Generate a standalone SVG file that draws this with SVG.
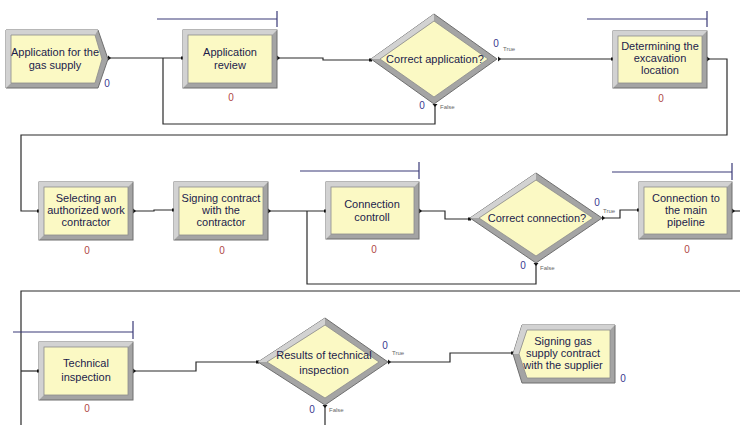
<svg xmlns="http://www.w3.org/2000/svg" width="740" height="425" viewBox="0 0 740 425">
  <defs>
    <style>
      .frame { fill: #a4a4a4; stroke: #6f6f6f; stroke-width: 1; }
      .hl { fill: #d2d2d2; }
      .face { fill: #fbf9c4; stroke: #8c8c8c; stroke-width: 0.8; }
      .lbl { font-family: "Liberation Sans", Arial, sans-serif; font-size: 11px; fill: #1c1c4c; text-anchor: middle; }
      .cnt { font-family: "Liberation Sans", Arial, sans-serif; font-size: 10px; text-anchor: middle; }
      .red { fill: #b04848; }
      .blue { fill: #3a3a90; }
      .tf { font-family: "Liberation Sans", Arial, sans-serif; font-size: 6px; fill: #666; }
      .wire { fill: none; stroke: #2a2a2a; stroke-width: 1.2; }
      .res { fill: none; stroke: #3a3a78; stroke-width: 1.2; }
      .pt { fill: #111; }
    </style>
  </defs>
  <rect width="740" height="425" fill="#ffffff"/>

  <!-- connectors -->
  <g id="connectors">
    <path class="wire" d="M108,58 H183"/>
    <path class="wire" d="M435,104 V124 H163 V58"/>
    <path class="wire" d="M277,58 H323 V60 H371"/>
    <path class="wire" d="M498,59 H613"/>
    <path class="wire" d="M707,59 H727 V135 H21 V211 H39"/>
    <path class="wire" d="M133,211 H154 V210 H174"/>
    <path class="wire" d="M268,211 H326"/>
    <path class="wire" d="M536,263 V284 H307 V211"/>
    <path class="wire" d="M419,211 H445 V219 H470"/>
    <path class="wire" d="M602,218 H620 V210 H639"/>
    <path class="wire" d="M732,211 H740"/>
    <path class="wire" d="M740,291 H21 V425"/>
    <path class="wire" d="M21,371 H39"/>
    <path class="wire" d="M133,371 H196 V362 H258"/>
    <path class="wire" d="M388,362 H450 V353 H513"/>
    <path class="wire" d="M325,405 V425"/>
    <!-- connection points -->
    <rect class="pt" x="181" y="56.5" width="3" height="3"/>
    <rect class="pt" x="369" y="58.5" width="3" height="3"/>
    <rect class="pt" x="611" y="57.5" width="3" height="3"/>
    <rect class="pt" x="37" y="209.5" width="3" height="3"/>
    <rect class="pt" x="172" y="208.5" width="3" height="3"/>
    <rect class="pt" x="324" y="209.5" width="3" height="3"/>
    <rect class="pt" x="468" y="217.5" width="3" height="3"/>
    <rect class="pt" x="637" y="208.5" width="3" height="3"/>
    <rect class="pt" x="37" y="369.5" width="3" height="3"/>
    <rect class="pt" x="256" y="360.5" width="3" height="3"/>
    <rect class="pt" x="511" y="351.5" width="3" height="3"/>
    <path class="pt" d="M108,55.5 L111,58 L108,60.5 Z"/>
    <path class="pt" d="M277,55.5 L280,58 L277,60.5 Z"/>
    <path class="pt" d="M498,56.5 L501,59 L498,61.5 Z"/>
    <path class="pt" d="M707,56.5 L710,59 L707,61.5 Z"/>
    <path class="pt" d="M432.5,104 L435,107 L437.5,104 Z"/>
    <path class="pt" d="M133,208.5 L136,211 L133,213.5 Z"/>
    <path class="pt" d="M268,208.5 L271,211 L268,213.5 Z"/>
    <path class="pt" d="M419,208.5 L422,211 L419,213.5 Z"/>
    <path class="pt" d="M602,215.5 L605,218 L602,220.5 Z"/>
    <path class="pt" d="M533.5,263 L536,266 L538.5,263 Z"/>
    <path class="pt" d="M732,208.5 L735,211 L732,213.5 Z"/>
    <path class="pt" d="M133,368.5 L136,371 L133,373.5 Z"/>
    <path class="pt" d="M388,359.5 L391,362 L388,364.5 Z"/>
    <path class="pt" d="M322.5,405 L325,408 L327.5,405 Z"/>
  </g>

  <!-- resource bars -->
  <g id="resources">
    <path class="res" d="M157,19 H277 M277,11 V27"/>
    <path class="res" d="M587,19 H707 M707,11 V27"/>
    <path class="res" d="M300,171 H419 M419,162 V179"/>
    <path class="res" d="M612,172 H732 M732,163 V180"/>
    <path class="res" d="M13,332 H133 M133,321 V339"/>
  </g>

  <!-- Row 1 -->
  <g id="create-application">
    <polygon class="frame" points="6,30 98,30 108,59 98,88 6,88"/>
    <polygon class="hl" points="6,30 98,30 95,35 11,35 11,83 6,88"/>
    <polygon class="face" points="11,35 95,35 102,59 95,83 11,83"/>
    <text class="lbl" x="55" y="56">Application for the</text>
    <text class="lbl" x="55" y="69">gas supply</text>
    <text class="cnt blue" x="107" y="87">0</text>
  </g>

  <g id="application-review">
    <rect class="frame" x="183" y="30" width="94" height="58"/>
    <polygon class="hl" points="183,30 277,30 272,35 188,35 188,83 183,88"/>
    <rect class="face" x="188" y="35" width="84" height="48"/>
    <text class="lbl" x="230" y="56">Application</text>
    <text class="lbl" x="230" y="69">review</text>
    <text class="cnt red" x="231" y="101">0</text>
  </g>

  <g id="correct-application">
    <polygon class="frame" points="371,59 434,14 497,59 434,104"/>
    <polygon class="hl" points="371,59 434,14 434,21 380,59"/>
    <polygon class="face" points="380,59 434,21 488,59 434,97"/>
    <text class="lbl" x="435" y="63">Correct application?</text>
    <text class="cnt blue" x="496" y="47">0</text>
    <text class="tf" x="503" y="51">True</text>
    <text class="cnt blue" x="422" y="109">0</text>
    <text class="tf" x="440" y="109">False</text>
  </g>

  <g id="determining-location">
    <rect class="frame" x="613" y="31" width="94" height="57"/>
    <polygon class="hl" points="613,31 707,31 702,36 618,36 618,83 613,88"/>
    <rect class="face" x="618" y="36" width="84" height="47"/>
    <text class="lbl" x="660" y="50">Determining the</text>
    <text class="lbl" x="660" y="62">excavation</text>
    <text class="lbl" x="660" y="74">location</text>
    <text class="cnt red" x="661" y="102">0</text>
  </g>

  <!-- Row 2 -->
  <g id="selecting-contractor">
    <rect class="frame" x="39" y="182" width="94" height="58"/>
    <polygon class="hl" points="39,182 133,182 128,187 44,187 44,235 39,240"/>
    <rect class="face" x="44" y="187" width="84" height="48"/>
    <text class="lbl" x="86" y="202">Selecting an</text>
    <text class="lbl" x="86" y="214">authorized work</text>
    <text class="lbl" x="86" y="226">contractor</text>
    <text class="cnt red" x="87" y="254">0</text>
  </g>

  <g id="signing-contract">
    <rect class="frame" x="174" y="182" width="94" height="58"/>
    <polygon class="hl" points="174,182 268,182 263,187 179,187 179,235 174,240"/>
    <rect class="face" x="179" y="187" width="84" height="48"/>
    <text class="lbl" x="221" y="202">Signing contract</text>
    <text class="lbl" x="221" y="214">with the</text>
    <text class="lbl" x="221" y="226">contractor</text>
    <text class="cnt red" x="222" y="254">0</text>
  </g>

  <g id="connection-controll">
    <rect class="frame" x="326" y="182" width="93" height="57"/>
    <polygon class="hl" points="326,182 419,182 414,187 331,187 331,234 326,239"/>
    <rect class="face" x="331" y="187" width="83" height="47"/>
    <text class="lbl" x="372" y="208">Connection</text>
    <text class="lbl" x="372" y="221">controll</text>
    <text class="cnt red" x="374" y="253">0</text>
  </g>

  <g id="correct-connection">
    <polygon class="frame" points="470,218 536,173 602,218 536,263"/>
    <polygon class="hl" points="470,218 536,173 536,180 479,218"/>
    <polygon class="face" points="479,218 536,180 593,218 536,256"/>
    <text class="lbl" x="537" y="222">Correct connection?</text>
    <text class="cnt blue" x="597" y="206">0</text>
    <text class="tf" x="603" y="213">True</text>
    <text class="cnt blue" x="523" y="269">0</text>
    <text class="tf" x="540" y="270">False</text>
  </g>

  <g id="connection-pipeline">
    <rect class="frame" x="639" y="182" width="93" height="57"/>
    <polygon class="hl" points="639,182 732,182 727,187 644,187 644,234 639,239"/>
    <rect class="face" x="644" y="187" width="83" height="47"/>
    <text class="lbl" x="686" y="202">Connection to</text>
    <text class="lbl" x="686" y="214">the main</text>
    <text class="lbl" x="686" y="226">pipeline</text>
    <text class="cnt red" x="687" y="253">0</text>
  </g>

  <!-- Row 3 -->
  <g id="technical-inspection">
    <rect class="frame" x="39" y="342" width="94" height="58"/>
    <polygon class="hl" points="39,342 133,342 128,347 44,347 44,395 39,400"/>
    <rect class="face" x="44" y="347" width="84" height="48"/>
    <text class="lbl" x="86" y="367">Technical</text>
    <text class="lbl" x="86" y="381">inspection</text>
    <text class="cnt red" x="87" y="412">0</text>
  </g>

  <g id="inspection-results">
    <polygon class="frame" points="258,362 325,318 388,362 325,405"/>
    <polygon class="hl" points="258,362 325,318 325,325 267,362"/>
    <polygon class="face" points="267,362 325,325 379,362 325,398"/>
    <text class="lbl" x="324" y="359">Results of technical</text>
    <text class="lbl" x="324" y="374">inspection</text>
    <text class="cnt blue" x="385" y="349">0</text>
    <text class="tf" x="392" y="355">True</text>
    <text class="cnt blue" x="312" y="413">0</text>
    <text class="tf" x="329" y="412">False</text>
  </g>

  <g id="dispose-supply-contract">
    <polygon class="frame" points="522,325 615,325 615,383 522,383 513,354"/>
    <polygon class="hl" points="522,325 615,325 610,330 527,330 519,354 513,354"/>
    <polygon class="face" points="527,330 610,330 610,378 527,378 519,354"/>
    <text class="lbl" x="563" y="345">Signing gas</text>
    <text class="lbl" x="563" y="357">supply contract</text>
    <text class="lbl" x="563" y="369">with the supplier</text>
    <text class="cnt blue" x="623" y="382">0</text>
  </g>
</svg>
